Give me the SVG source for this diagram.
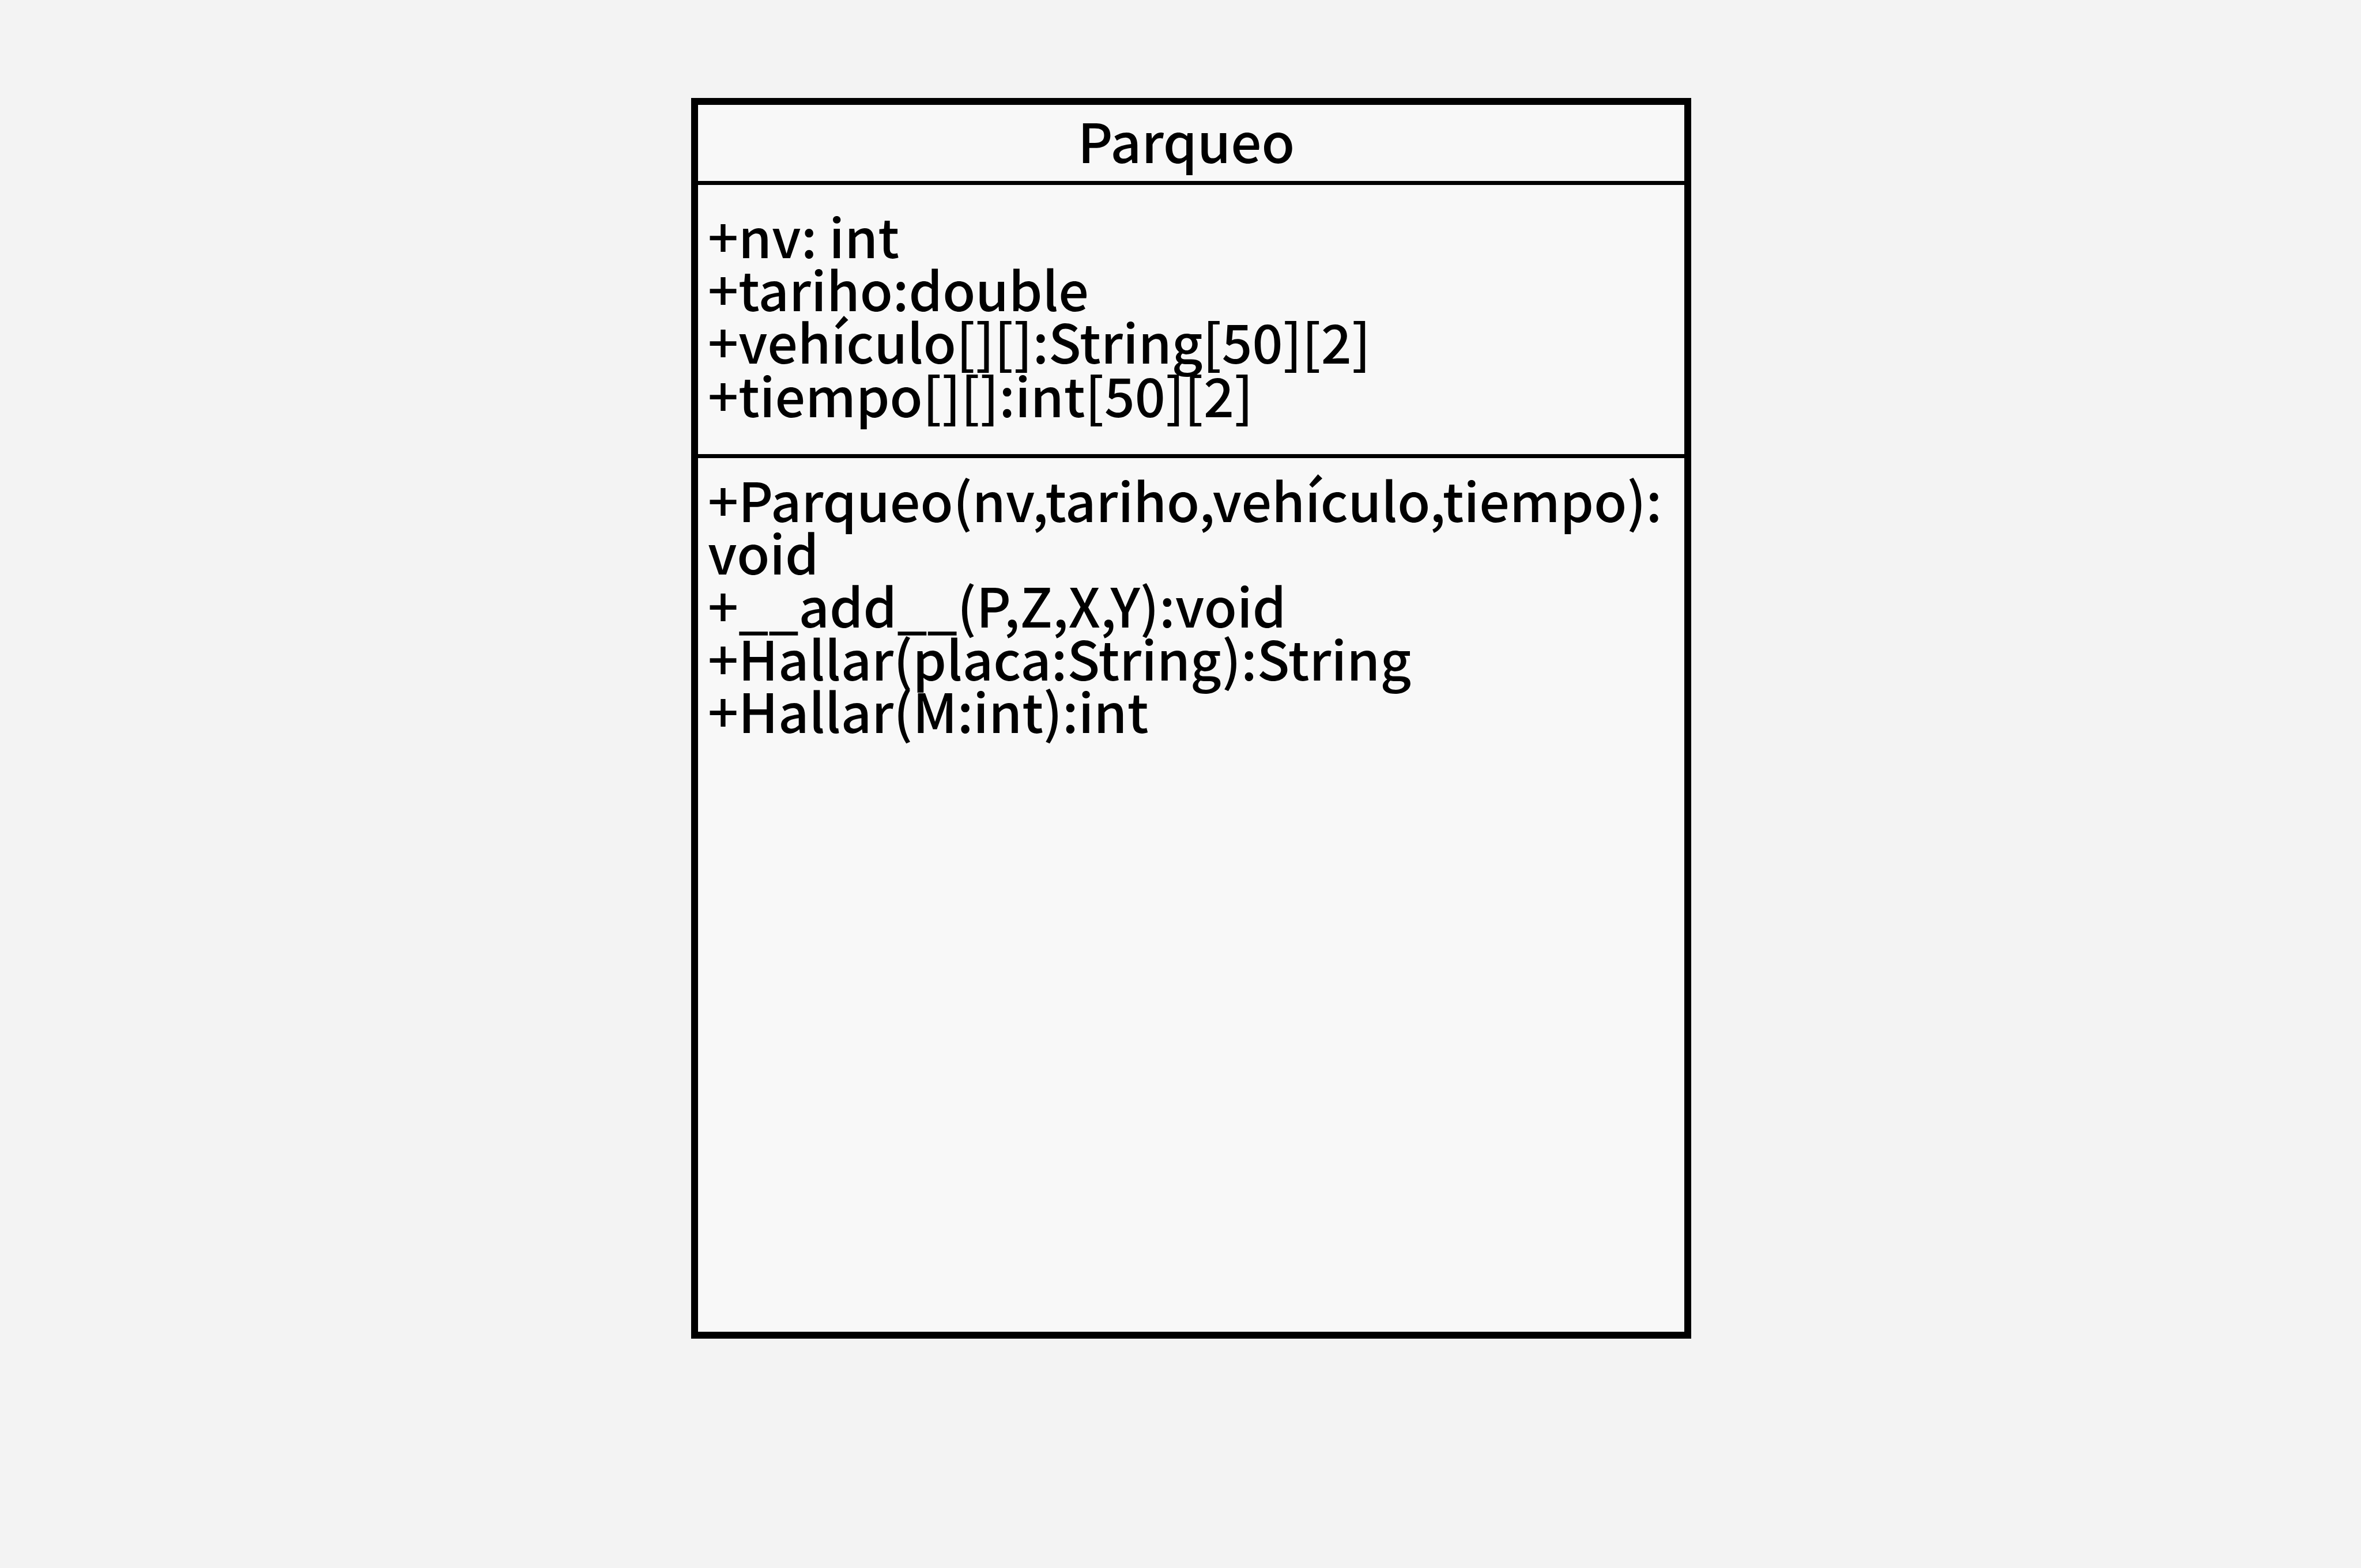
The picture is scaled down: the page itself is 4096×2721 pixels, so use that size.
<svg xmlns="http://www.w3.org/2000/svg" width="4096" height="2721" viewBox="0 0 4096 2721">
<style>
.t{font-family:"Noto Sans CJK JP","Noto Sans",sans-serif;font-size:93px;font-weight:500;fill:#000}
.h{font-size:94px}
.b{fill:#f8f8f8;stroke:#000;stroke-width:12}
.d{stroke:#000;stroke-width:7}
</style>
<rect width="4096" height="2721" fill="#f3f3f3"/>
<g id="parqueo">
<rect class="b" x="1205" y="176" width="1723" height="2141"/>
<line class="d" x1="1205" y1="317.5" x2="2928" y2="317.5"/>
<line class="d" x1="1205" y1="791.5" x2="2928" y2="791.5"/>
<text class="t h" x="2058" y="283" text-anchor="middle">Parqueo</text>
<text class="t" x="1228" y="448">+nv: int</text>
<text class="t" x="1228" y="540">+tariho:double</text>
<text class="t" x="1228" y="631">+vehículo[][]:String[50][2]</text>
<text class="t" x="1228" y="724">+tiempo[][]:int[50][2]</text>
<text class="t" x="1228" y="906">+Parqueo(nv,tariho,vehículo,tiempo):</text>
<text class="t" x="1228" y="997">void</text>
<text class="t" x="1228" y="1089">+__add__(P,Z,X,Y):void</text>
<text class="t" x="1228" y="1181">+Hallar(placa:String):String</text>
<text class="t" x="1228" y="1272">+Hallar(M:int):int</text>
</g>
<g id="connectors"/>
</svg>
